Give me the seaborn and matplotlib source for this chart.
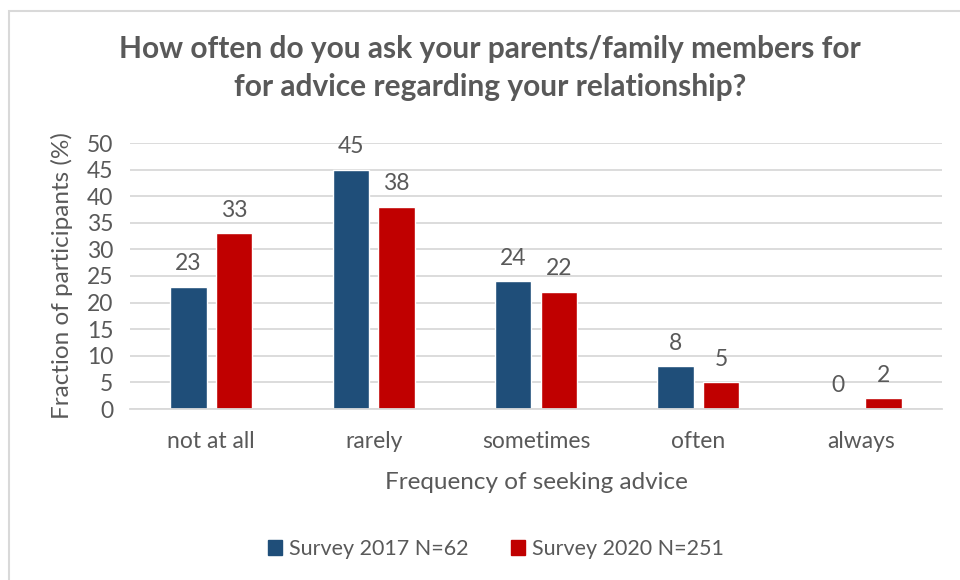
import matplotlib
matplotlib.use("Agg")
import matplotlib.pyplot as plt
import matplotlib.patches as mpatches
import pandas as pd
import seaborn as sns

categories = ["not at all", "rarely", "sometimes", "often", "always"]
series_names = ["Survey 2017 N=62", "Survey 2020 N=251"]
values_2017 = [23, 45, 24, 8, 0]
values_2020 = [33, 38, 22, 5, 2]
y_ticks = [0, 5, 10, 15, 20, 25, 30, 35, 40, 45, 50]

colors = ["#1F4E79", "#C00000"]
text_color = "#595959"

df = pd.DataFrame({
    "category": categories * 2,
    "series": [series_names[0]] * len(categories) + [series_names[1]] * len(categories),
    "value": values_2017 + values_2020,
})

sns.set_theme(style="white")
plt.rcParams["font.family"] = ["Lato", "DejaVu Sans"]

W, H = 960, 580
fig = plt.figure(figsize=(W / 100, H / 100), dpi=100)
ax = fig.add_axes([130 / W, 1 - 409 / H, (942 - 130) / W, (409 - 143) / H])

sns.barplot(data=df, x="category", y="value", hue="series", order=categories,
            hue_order=series_names, palette=colors, width=0.56, gap=0.2,
            ax=ax, legend=False, saturation=1)

ax.set_ylim(0, 50)
ax.set_xlim(-0.5, len(categories) - 0.5)
ax.set_yticks(y_ticks)
ax.yaxis.grid(True, color="#D9D9D9", linewidth=1.3)
ax.set_axisbelow(True)
for s in ["top", "right", "left"]:
    ax.spines[s].set_visible(False)
ax.spines["bottom"].set_color("#D9D9D9")
ax.spines["bottom"].set_linewidth(1.3)
ax.tick_params(axis="both", length=0, labelsize=16.5, labelcolor=text_color)
ax.tick_params(axis="x", pad=16)
ax.tick_params(axis="y", pad=12)

for container in ax.containers:
    ax.bar_label(container, fmt="%g", padding=9, fontsize=16.5, color=text_color)

ax.set_xlabel("Frequency of seeking advice", fontsize=17.5, color=text_color, labelpad=14)
ax.set_ylabel("Fraction of participants (%)", fontsize=17.5, color=text_color, labelpad=10)

fig.text(490 / W, 1 - 68 / H,
         "How often do you ask your parents/family members for\nfor advice regarding your relationship?",
         ha="center", va="center", fontsize=21.5, fontweight="bold", color=text_color,
         linespacing=1.4)

handles = [mpatches.Patch(color=c, label=n) for c, n in zip(colors, series_names)]
fig.legend(handles=handles, loc="center", bbox_to_anchor=(496 / W, 1 - 549 / H), ncol=2,
           frameon=False, fontsize=15.5, labelcolor=text_color, handlelength=0.65,
           handleheight=0.65, columnspacing=2.0, handletextpad=0.3)

fig.patches.append(mpatches.Rectangle((9 / W, -0.05), 1.2, 1 - 11 / H + 0.05,
                                      transform=fig.transFigure, fill=False,
                                      edgecolor="#D9D9D9", linewidth=1.5))

fig.savefig("out.png", dpi=100, facecolor="white")
